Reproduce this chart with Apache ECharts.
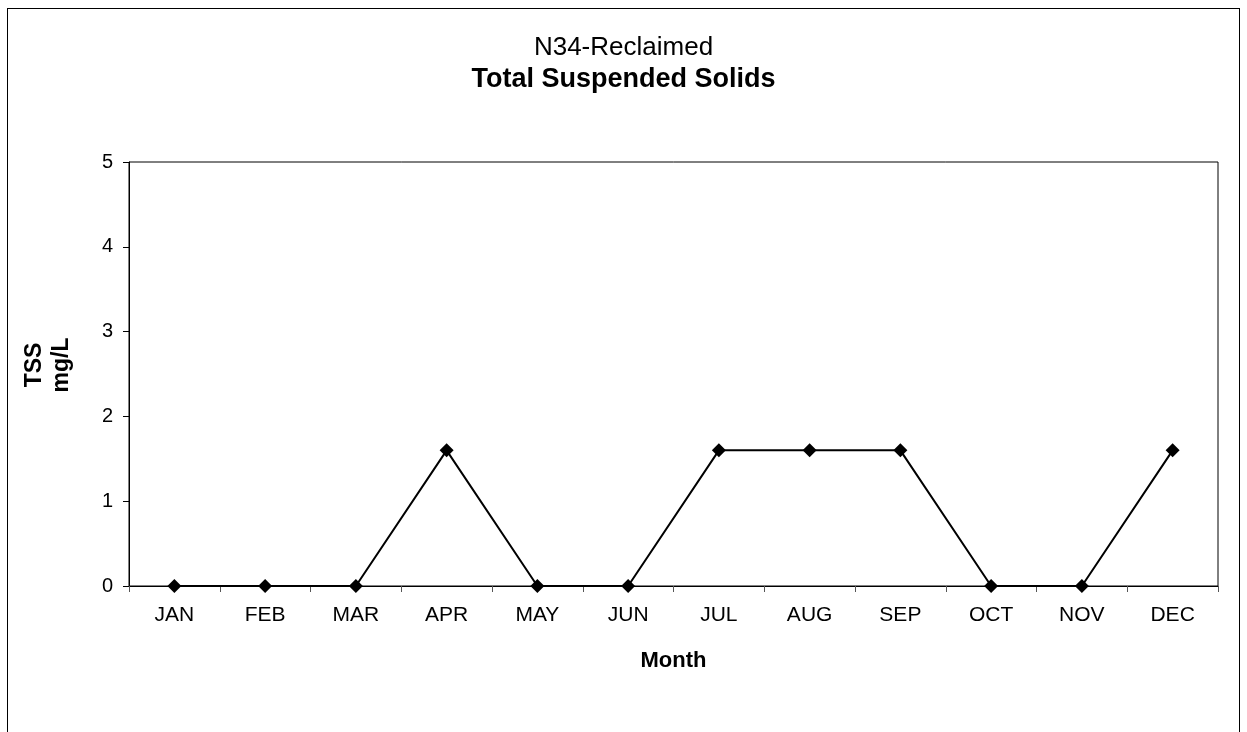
<!DOCTYPE html>
<html>
<head>
<meta charset="utf-8">
<script src="https://cdn.jsdelivr.net/npm/echarts@6/dist/echarts.min.js"></script>
<style>
  html, body { margin: 0; padding: 0; background: #fff; }
  #chart { width: 1247px; height: 732px; }
  .frame {
    position: absolute; left: 7px; top: 8px; width: 1233px; height: 740px;
    border: 1px solid #000; box-sizing: border-box; pointer-events: none;
  }
</style>
</head>
<body>
<div id="chart"></div>
<div class="frame"></div>
<script>
// months on the x axis
const months = ['JAN', 'FEB', 'MAR', 'APR', 'MAY', 'JUN', 'JUL', 'AUG', 'SEP', 'OCT', 'NOV', 'DEC']
// TSS in mg/L
const tss = [0, 0, 0, 1.6, 0, 0, 1.6, 1.6, 1.6, 0, 0, 1.6]

const chart = echarts.init(document.getElementById('chart'))
const font = 'Liberation Sans, Arial, sans-serif'

chart.setOption({
  animation: false,
  backgroundColor: '#fff',
  title: [
    {
      text: 'N34-Reclaimed',
      left: 'center',
      top: 35,
      padding: 0,
      textStyle: { fontFamily: font, fontSize: 26, fontWeight: 'normal', color: '#000' }
    },
    {
      text: 'Total Suspended Solids',
      left: 'center',
      top: 66,
      padding: 0,
      textStyle: { fontFamily: font, fontSize: 27, fontWeight: 'bold', color: '#000' }
    }
  ],
  grid: {
    left: 129,
    right: 29,
    top: 162,
    bottom: 146,
    show: true,
    borderColor: '#000',
    borderWidth: 1
  },
  xAxis: {
    type: 'category',
    data: months,
    boundaryGap: true,
    name: 'Month',
    nameLocation: 'middle',
    nameGap: 64,
    nameTextStyle: { fontFamily: font, fontSize: 22, fontWeight: 'bold', color: '#000' },
    axisLine: { lineStyle: { color: '#000', width: 1 } },
    axisTick: { show: true, length: 6, lineStyle: { color: '#555' } },
    axisLabel: { fontFamily: font, fontSize: 21, color: '#000', margin: 19 }
  },
  yAxis: {
    type: 'value',
    min: 0,
    max: 5,
    interval: 1,
    name: 'TSS\nmg/L',
    nameLocation: 'middle',
    nameGap: 54,
    nameRotate: 90,
    nameTextStyle: {
      fontFamily: font, fontSize: 23, fontWeight: 'bold', color: '#000',
      lineHeight: 27, padding: [0, 0, 0, 18]
    },
    axisLine: { show: true, lineStyle: { color: '#000', width: 1 } },
    axisTick: { show: true, length: 6, lineStyle: { color: '#000' } },
    splitLine: { show: false },
    axisLabel: { fontFamily: font, fontSize: 20, color: '#000', margin: 16 }
  },
  series: [
    {
      name: 'TSS',
      type: 'line',
      data: tss,
      symbol: 'diamond',
      symbolSize: 14,
      itemStyle: { color: '#000' },
      lineStyle: { color: '#000', width: 2 }
    }
  ]
})
</script>
</body>
</html>
